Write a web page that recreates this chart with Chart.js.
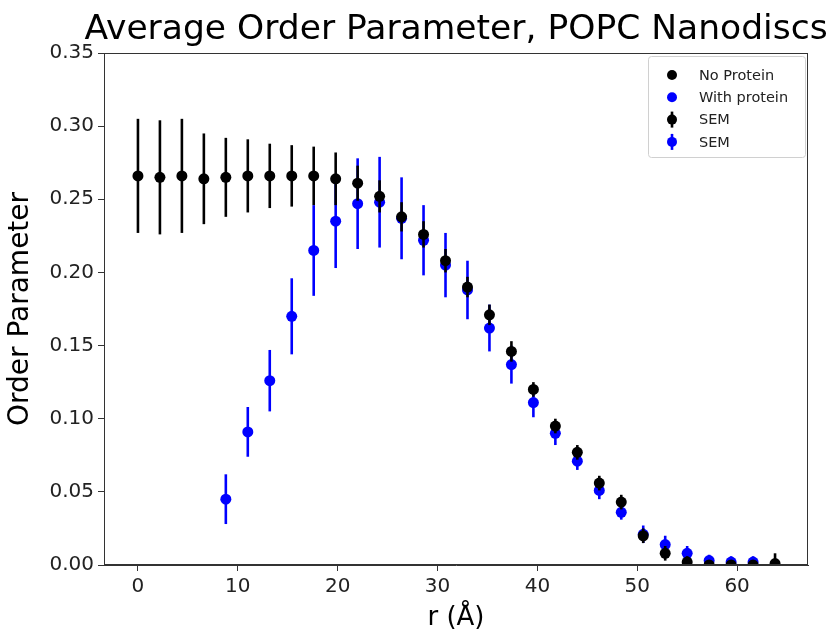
<!DOCTYPE html>
<html>
<head>
<meta charset="utf-8">
<script src="https://cdn.jsdelivr.net/npm/chart.js@4.4.1/dist/chart.umd.min.js"></script>
<style>
  html, body { margin: 0; padding: 0; background: #fff; }
  #wrap { width: 837px; height: 634px; }
</style>
</head>
<body>
<div id="wrap"><canvas id="orderChart"></canvas></div>
<script>
const rValues = [0, 2.2, 4.4, 6.6, 8.8, 11, 13.2, 15.4, 17.6, 19.8, 22, 24.2, 26.4, 28.6, 30.8,
    33, 35.2, 37.4, 39.6, 41.8, 44, 46.2, 48.4, 50.6, 52.8, 55, 57.2, 59.4, 61.6, 63.8];

const noProtein = [0.266, 0.265, 0.266, 0.264, 0.265, 0.266, 0.266, 0.266, 0.266, 0.264,
    0.261, 0.252, 0.238, 0.226, 0.208, 0.190, 0.171, 0.146, 0.120, 0.095,
    0.077, 0.056, 0.043, 0.020, 0.008, 0.002, 0.000, 0.000, 0.000, 0.001];
const noProteinSem = [0.039, 0.039, 0.039, 0.031, 0.027, 0.025, 0.022, 0.021, 0.020, 0.018,
    0.012, 0.011, 0.010, 0.009, 0.008, 0.007, 0.007, 0.007, 0.005, 0.005,
    0.005, 0.005, 0.005, 0.005, 0.005, 0.004, 0.003, 0.003, 0.003, 0.007];

const withProtein = [null, null, null, null, 0.045, 0.091, 0.126, 0.170, 0.215, 0.235,
    0.247, 0.248, 0.237, 0.222, 0.205, 0.188, 0.162, 0.137, 0.111, 0.090,
    0.071, 0.051, 0.036, 0.021, 0.014, 0.008, 0.003, 0.002, 0.002, null];
const withProteinSem = [null, null, null, null, 0.017, 0.017, 0.021, 0.026, 0.031, 0.032,
    0.031, 0.031, 0.028, 0.024, 0.022, 0.020, 0.016, 0.013, 0.010, 0.008,
    0.006, 0.006, 0.005, 0.006, 0.006, 0.005, 0.004, 0.004, 0.004, null];

const xTicks = [0, 10, 20, 30, 40, 50, 60];
const legendLabels = ["No Protein", "With protein", "SEM", "SEM"];
const chartTitle = "Average Order Parameter, POPC Nanodiscs";

const FONT = "'DejaVu Sans', sans-serif";

function toPoints(ys, errs) {
    const pts = [];
    rValues.forEach((x, i) => {
        if (ys[i] !== null) pts.push({ x: x, y: ys[i], err: errs[i] });
    });
    return pts;
}

// error bars drawn right after each dataset so blue sits on top of black
const errorBars = {
    id: "errorBars",
    afterDatasetDraw(chart, args) {
        const ds = chart.data.datasets[args.index];
        const x = chart.scales.x, y = chart.scales.y;
        const ctx = chart.ctx;
        const area = chart.chartArea;
        ctx.save();
        ctx.beginPath();
        ctx.rect(area.left, area.top, area.right - area.left, area.bottom - area.top);
        ctx.clip();
        ctx.strokeStyle = ds.borderColor;
        ctx.lineWidth = 2.6;
        ds.data.forEach((p) => {
            const px = x.getPixelForValue(p.x);
            ctx.beginPath();
            ctx.moveTo(px, y.getPixelForValue(p.y - p.err));
            ctx.lineTo(px, y.getPixelForValue(p.y + p.err));
            ctx.stroke();
        });
        ctx.restore();
    },
};

// frame, title (centred over the plot like matplotlib) and legend inside the axes
const frameAndLegend = {
    id: "frameAndLegend",
    afterDraw(chart) {
        const ctx = chart.ctx;
        const a = chart.chartArea;
        ctx.save();
        ctx.strokeStyle = "#333";
        ctx.lineWidth = 1;
        ctx.strokeRect(Math.round(a.left) + 0.5, Math.round(a.top) + 0.5,
            Math.round(a.right - a.left) - 1, Math.round(a.bottom - a.top) - 1);

        ctx.fillStyle = "#000";
        ctx.font = "34.5px " + FONT;
        ctx.textAlign = "center";
        ctx.textBaseline = "alphabetic";
        ctx.fillText(chartTitle, (a.left + a.right) / 2, 39);

        // legend box
        const bx = a.right - 160, by = a.top + 3, bw = 157, bh = 101;
        ctx.fillStyle = "rgba(255,255,255,0.85)";
        ctx.strokeStyle = "#d0d0d0";
        ctx.beginPath();
        ctx.roundRect(bx + 0.5, by + 0.5, bw, bh, 3);
        ctx.fill();
        ctx.stroke();

        const colors = ["#000000", "#0000ff", "#000000", "#0000ff"];
        ctx.font = "14.5px " + FONT;
        ctx.textAlign = "left";
        ctx.textBaseline = "middle";
        legendLabels.forEach((label, i) => {
            const cy = by + 19 + i * 22.3;
            const mx = bx + 24;
            ctx.fillStyle = colors[i];
            ctx.strokeStyle = colors[i];
            if (i >= 2) {
                ctx.lineWidth = 2.6;
                ctx.beginPath();
                ctx.moveTo(mx, cy - 8);
                ctx.lineTo(mx, cy + 8);
                ctx.stroke();
            }
            ctx.beginPath();
            ctx.arc(mx, cy, 5, 0, Math.PI * 2);
            ctx.fill();
            ctx.fillStyle = "#222";
            ctx.fillText(label, bx + 51, cy + 1);
        });
        ctx.restore();
    },
};

const ctx = document.getElementById("orderChart").getContext("2d");

const orderChart = new Chart(ctx, {
    type: "scatter",
    data: {
        datasets: [
            {
                label: "No Protein",
                data: toPoints(noProtein, noProteinSem),
                backgroundColor: "#000000",
                borderColor: "#000000",
                pointRadius: 5.5,
                pointBorderWidth: 0,
                pointHoverRadius: 5.5,
            },
            {
                label: "With protein",
                data: toPoints(withProtein, withProteinSem),
                backgroundColor: "#0000ff",
                borderColor: "#0000ff",
                pointRadius: 5.5,
                pointBorderWidth: 0,
                pointHoverRadius: 5.5,
            },
        ],
    },
    options: {
        responsive: true,
        maintainAspectRatio: false,
        animation: false,
        layout: { padding: { left: 0, right: 29, top: 53, bottom: 0 } },
        plugins: {
            legend: { display: false },
            tooltip: { enabled: false },
            title: { display: false },
        },
        scales: {
            x: {
                type: "linear",
                min: -3.4,
                max: 67.1,
                afterFit: (s) => { s.height = 69; },
                afterBuildTicks: (s) => { s.ticks = xTicks.map((v) => ({ value: v })); },
                ticks: {
                    color: "#222",
                    font: { family: FONT, size: 20 },
                    padding: 4,
                    includeBounds: false,
                },
                grid: { display: true, drawOnChartArea: false, drawTicks: true, tickLength: 6, color: "#333" },
                border: { display: true, color: "#333" },
                title: {
                    display: true,
                    text: "r (Å)",
                    color: "#000",
                    font: { family: FONT, size: 26 },
                    padding: { top: 0, bottom: 0 },
                },
            },
            y: {
                min: 0,
                max: 0.35,
                afterFit: (s) => { s.width = 104; },
                ticks: {
                    stepSize: 0.05,
                    color: "#222",
                    font: { family: FONT, size: 20 },
                    padding: 4,
                    callback: (v) => v.toFixed(2),
                },
                grid: { display: true, drawOnChartArea: false, drawTicks: true, tickLength: 6, color: "#333" },
                border: { display: true, color: "#333" },
                title: {
                    display: true,
                    text: "Order Parameter",
                    color: "#000",
                    font: { family: FONT, size: 28 },
                    padding: { bottom: 2 },
                },
            },
        },
    },
    plugins: [errorBars, frameAndLegend],
});
</script>
</body>
</html>
